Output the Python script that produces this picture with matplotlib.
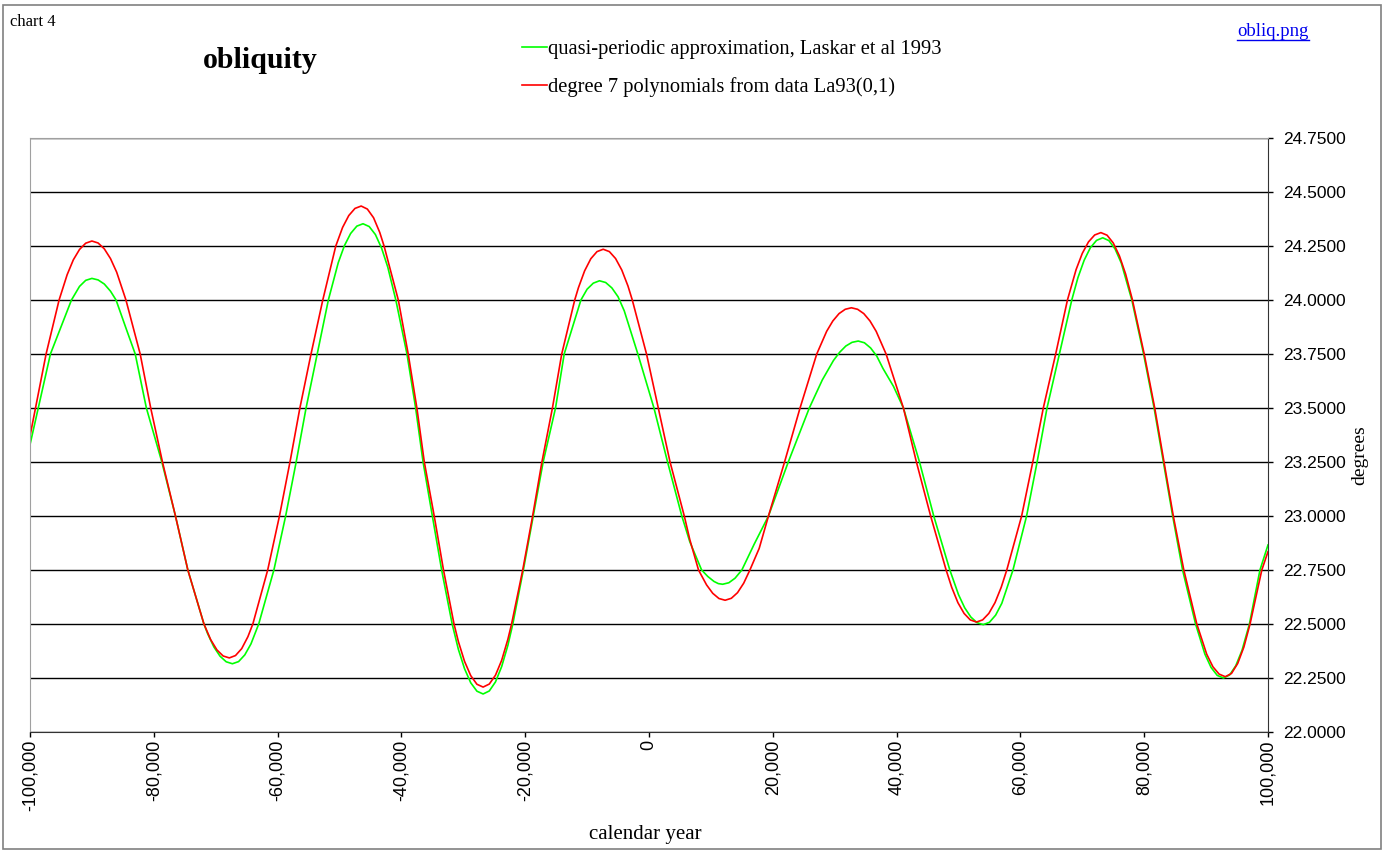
import matplotlib
matplotlib.use("Agg")
import matplotlib.pyplot as plt
from matplotlib.patches import Rectangle
from matplotlib.ticker import FuncFormatter, MultipleLocator

# values (year in thousands, obliquity in degrees)
green_years = [-100, -96.7, -93.3, -92.0, -91.0, -90.0, -89.0, -88.0, -87.0, -86.1,
               -84.5, -83.0, -81.2, -78.7, -76.5, -74.5, -71.9, -71.3, -70.3, -69.3,
               -68.3, -67.3, -66.3, -65.3, -64.3, -63.05, -60.6, -58.7, -57.0, -55.4,
               -53.6, -51.8, -50.2, -49.2, -48.2, -47.2, -46.2, -45.2, -44.2, -43.2,
               -42.2, -40.9, -39.1, -37.7, -36.5, -35.0, -33.5, -31.8, -30.8, -29.8,
               -28.8, -27.8, -26.8, -25.8, -24.8, -23.8, -22.8, -22.0, -20.3, -18.7,
               -17.1, -15.1, -13.7, -11.0, -10.0, -9.0, -8.0, -7.0, -6.0, -5.0,
               -4.0, -1.8, 0.8, 3.0, 5.3, 6.6, 8.5, 9.5, 10.5, 11.2,
               11.9, 12.9, 13.9, 15.0, 17.0, 19.3, 22.5, 25.9, 28.0, 29.8,
               30.8, 31.8, 32.8, 33.8, 34.8, 35.8, 36.8, 37.8, 39.5, 41.1,
               43.7, 46.0, 48.6, 50.0, 51.0, 52.0, 53.0, 54.0, 55.0, 56.0,
               57.0, 58.8, 61.0, 62.7, 64.3, 66.3, 68.3, 69.3, 70.3, 71.3,
               72.3, 73.3, 74.3, 75.3, 76.3, 78.0, 79.9, 81.6, 83.1, 84.6,
               86.2, 88.3, 89.8, 90.8, 91.8, 92.8, 93.8, 94.8, 95.8, 97.0,
               98.7, 100]
green_vals = [23.33, 23.75, 24.00, 24.063, 24.091, 24.10, 24.093, 24.074, 24.041, 24.00,
              23.87, 23.75, 23.50, 23.25, 23.00, 22.75, 22.50, 22.455, 22.394, 22.351,
              22.325, 22.316, 22.326, 22.357, 22.408, 22.50, 22.75, 23.00, 23.25, 23.50,
              23.75, 24.00, 24.173, 24.252, 24.308, 24.342, 24.353, 24.340, 24.303, 24.240,
              24.152, 24.00, 23.75, 23.50, 23.25, 23.00, 22.75, 22.50, 22.383, 22.293,
              22.228, 22.189, 22.176, 22.190, 22.232, 22.303, 22.401, 22.50, 22.75, 23.00,
              23.25, 23.50, 23.75, 24.00, 24.05, 24.078, 24.089, 24.081, 24.056, 24.015,
              23.95, 23.75, 23.50, 23.25, 23.00, 22.88, 22.75, 22.72, 22.697, 22.687,
              22.684, 22.691, 22.712, 22.75, 22.87, 23.00, 23.25, 23.50, 23.63, 23.72,
              23.758, 23.787, 23.804, 23.81, 23.802, 23.778, 23.74, 23.683, 23.60, 23.50,
              23.25, 23.00, 22.75, 22.636, 22.575, 22.532, 22.506, 22.497, 22.508, 22.541,
              22.596, 22.75, 23.00, 23.25, 23.50, 23.75, 24.00, 24.104, 24.184, 24.242,
              24.276, 24.288, 24.275, 24.236, 24.171, 24.00, 23.75, 23.50, 23.25, 23.00,
              22.75, 22.50, 22.361, 22.299, 22.262, 22.25, 22.264, 22.307, 22.378, 22.50,
              22.75, 22.866]

red_years = [-100, -97.4, -95.3, -94.0, -93.0, -92.0, -91.0, -90.0, -89.0, -88.0,
             -87.0, -86.0, -84.5, -82.2, -80.5, -78.6, -76.5, -74.5, -71.9, -70.8,
             -69.8, -68.8, -67.8, -66.8, -65.8, -64.8, -64.0, -61.6, -59.7, -58.0,
             -56.4, -54.6, -52.7, -50.6, -49.5, -48.5, -47.5, -46.5, -45.5, -44.5,
             -43.5, -42.8, -40.5, -38.9, -37.5, -36.3, -34.7, -33.2, -31.5, -30.8,
             -29.8, -28.8, -27.8, -26.8, -25.8, -24.8, -23.8, -22.8, -22.2, -20.4,
             -18.8, -17.3, -15.6, -14.1, -12.0, -11.4, -10.4, -9.4, -8.4, -7.4,
             -6.4, -5.4, -4.4, -3.4, -2.7, -0.4, 1.5, 3.4, 5.7, 6.6,
             8.0, 9.3, 10.3, 11.3, 12.3, 13.3, 14.3, 15.3, 16.3, 17.8,
             19.3, 21.9, 24.4, 27.1, 28.7, 29.7, 30.7, 31.7, 32.7, 33.7,
             34.7, 35.7, 36.7, 38.3, 41.1, 43.2, 45.5, 48.0, 48.9, 49.9,
             50.9, 51.9, 52.9, 53.9, 54.9, 55.9, 56.9, 57.8, 60.2, 62.0,
             63.7, 65.7, 67.6, 69.0, 70.0, 71.0, 72.0, 73.0, 74.0, 75.0,
             76.0, 77.0, 78.1, 80.0, 81.7, 83.2, 84.7, 86.4, 88.5, 90.1,
             91.1, 92.1, 93.1, 94.1, 95.1, 96.1, 97.1, 99.0, 100]
red_vals = [23.37, 23.75, 24.00, 24.117, 24.186, 24.234, 24.263, 24.273, 24.264, 24.237,
            24.192, 24.129, 24.00, 23.75, 23.50, 23.25, 23.00, 22.75, 22.50, 22.427,
            22.380, 22.352, 22.343, 22.354, 22.386, 22.441, 22.50, 22.75, 23.00, 23.25,
            23.50, 23.75, 24.00, 24.25, 24.336, 24.391, 24.424, 24.435, 24.421, 24.381,
            24.313, 24.25, 24.00, 23.75, 23.50, 23.25, 23.00, 22.75, 22.50, 22.419,
            22.327, 22.261, 22.221, 22.208, 22.222, 22.263, 22.332, 22.429, 22.50, 22.75,
            23.00, 23.25, 23.50, 23.75, 24.00, 24.057, 24.135, 24.191, 24.224, 24.235,
            24.224, 24.192, 24.139, 24.065, 24.00, 23.75, 23.50, 23.25, 23.00, 22.89,
            22.75, 22.681, 22.642, 22.618, 22.61, 22.619, 22.645, 22.689, 22.75, 22.85,
            23.00, 23.25, 23.50, 23.75, 23.855, 23.903, 23.937, 23.957, 23.964, 23.957,
            23.937, 23.903, 23.855, 23.75, 23.50, 23.25, 23.00, 22.75, 22.67, 22.599,
            22.549, 22.519, 22.509, 22.519, 22.549, 22.599, 22.67, 22.75, 23.00, 23.25,
            23.50, 23.75, 24.00, 24.141, 24.216, 24.269, 24.301, 24.312, 24.300, 24.264,
            24.204, 24.12, 24.00, 23.75, 23.50, 23.25, 23.00, 22.75, 22.50, 22.36,
            22.302, 22.268, 22.256, 22.271, 22.317, 22.393, 22.50, 22.75, 22.835]

green_label = "quasi-periodic approximation, Laskar et al 1993"
red_label = "degree 7 polynomials from data La93(0,1)"

W, H = 1387, 851
fig = plt.figure(figsize=(W / 100, H / 100), dpi=100)
ax = fig.add_axes([30 / W, 1 - 732 / H, (1268 - 30) / W, (732 - 138) / H])

g, = ax.plot([y * 1000 for y in green_years], green_vals, color="#00ff00", lw=1.2, label=green_label)
r, = ax.plot([y * 1000 for y in red_years], red_vals, color="#ff0000", lw=1.2, label=red_label)

ax.set_xlim(-100000, 100000)
ax.set_ylim(22.0, 24.75)
ax.xaxis.set_major_locator(MultipleLocator(20000))
ax.yaxis.set_major_locator(MultipleLocator(0.25))
ax.xaxis.set_major_formatter(FuncFormatter(lambda v, p: f"{v:,.0f}"))
ax.yaxis.set_major_formatter(FuncFormatter(lambda v, p: f"{v:.4f}"))
ax.grid(axis="y", color="black", lw=1.0)
ax.set_axisbelow(True)

ax.yaxis.tick_right()
ax.yaxis.set_label_position("right")
ax.tick_params(axis="y", direction="out", length=3.6, width=1, pad=7, labelsize=12.5,
               labelfontfamily="Liberation Sans")
ax.tick_params(axis="x", direction="out", length=3.6, width=1, pad=2, labelsize=13,
               labelrotation=90, labelfontfamily="Liberation Sans")
for s in ("left", "top"):
    ax.spines[s].set_color("#a0a0a0")
for s in ("right", "bottom"):
    ax.spines[s].set_color("#333333")

ax.set_xlabel("calendar year", family="Liberation Serif", fontsize=15)
ax.xaxis.set_label_coords(0.497, -0.157)
ax.set_ylabel("degrees", family="Liberation Serif", fontsize=14)
ax.yaxis.set_label_coords(1.0743, 0.466)
ax.yaxis.label.set_verticalalignment("center")

fig.legend(handles=[g, r], loc="upper left", bbox_to_anchor=(522 / W, 1 - 40 / H),
           frameon=False, handlelength=1.2, handletextpad=0.05, labelspacing=0.88,
           borderpad=0, borderaxespad=0,
           prop={"family": "Liberation Serif", "size": 14.75})

fig.text(260 / W, 1 - 61 / H, "obliquity", family="Liberation Serif", weight="bold",
         fontsize=21.5, ha="center", va="center")
fig.text(10 / W, 1 - 22 / H, "chart 4", family="Liberation Serif", fontsize=12,
         ha="left", va="center")
fig.text(1273 / W, 1 - 32 / H, "obliq.png", family="Liberation Serif", fontsize=13.5,
         color="#0000ee", ha="center", va="center")
fig.add_artist(plt.Line2D([1237 / W, 1309 / W], [1 - 40 / H, 1 - 40 / H], color="#0000ee", lw=1))

fig.add_artist(Rectangle((3 / W, 2 / H), (1381 - 3) / W, (846 - 2) / H, transform=fig.transFigure,
                         fill=False, edgecolor="#808080", lw=1.2))

fig.savefig("out.png", dpi=100)
